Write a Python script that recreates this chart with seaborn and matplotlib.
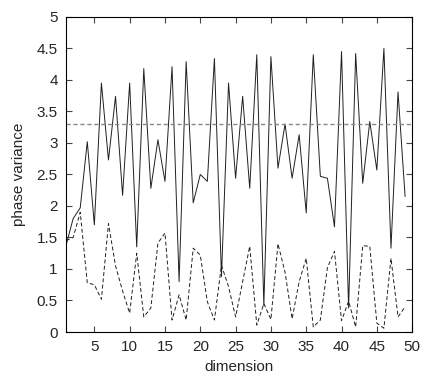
import numpy as np
import pandas as pd
import matplotlib
matplotlib.use("Agg")
import matplotlib.pyplot as plt
import seaborn as sns

# values
dimension = list(range(1, 50))
solid_var = [1.38, 1.8, 1.97, 3.02, 1.7, 3.95, 2.73, 3.74, 2.17, 3.95,
             1.35, 4.18, 2.28, 3.05, 2.39, 4.21, 0.8, 4.29, 2.05, 2.5,
             2.39, 4.34, 0.88, 3.95, 2.44, 3.74, 2.28, 4.4, 0.42, 4.37,
             2.6, 3.3, 2.44, 3.13, 1.89, 4.4, 2.47, 2.44, 1.67, 4.45,
             0.38, 4.42, 2.36, 3.34, 2.57, 4.5, 1.33, 3.81, 2.15]
dashed_var = [1.45, 1.5, 1.9, 0.78, 0.75, 0.52, 1.72, 1.05, 0.65, 0.3,
              1.25, 0.24, 0.38, 1.41, 1.57, 0.19, 0.59, 0.19, 1.33, 1.22,
              0.48, 0.19, 1.06, 0.72, 0.24, 0.8, 1.36, 0.11, 0.45, 0.2,
              1.4, 0.95, 0.21, 0.8, 1.17, 0.08, 0.19, 1.02, 1.28, 0.18,
              0.49, 0.08, 1.37, 1.36, 0.14, 0.06, 1.17, 0.24, 0.4]
threshold = 3.3

df = pd.DataFrame({"dimension": dimension, "solid": solid_var, "dashed": dashed_var})

sns.set_style("ticks")
plt.rcParams["font.family"] = ["Liberation Sans", "DejaVu Sans"]

fig = plt.figure(figsize=(4.21, 3.76), dpi=100)
ax = fig.add_axes([0.157, 0.117, 0.822, 0.838])

sns.lineplot(data=df, x="dimension", y="solid", ax=ax, color="#202020", lw=0.7)
sns.lineplot(data=df, x="dimension", y="dashed", ax=ax, color="#202020", lw=0.7,
             linestyle=(0, (4, 2.5)))
ax.axhline(threshold, color="#888888", lw=1.0, linestyle=(0, (3, 2)))

ax.set_xlim(1, 50)
ax.set_ylim(0, 5)
ax.set_xticks(range(5, 51, 5))
ax.set_yticks(np.arange(0, 5.01, 0.5))
ax.set_yticklabels(["0", "0.5", "1", "1.5", "2", "2.5", "3", "3.5", "4", "4.5", "5"])
ax.tick_params(direction="in", top=True, right=True, length=4, width=0.8,
               labelsize=11, color="#444444", pad=6)
for sp in ax.spines.values():
    sp.set_linewidth(0.8)
    sp.set_color("black")
ax.set_xlabel("dimension", fontsize=11, labelpad=4)
ax.set_ylabel("phase variance", fontsize=11, labelpad=8)

fig.savefig("out.png", dpi=100)
